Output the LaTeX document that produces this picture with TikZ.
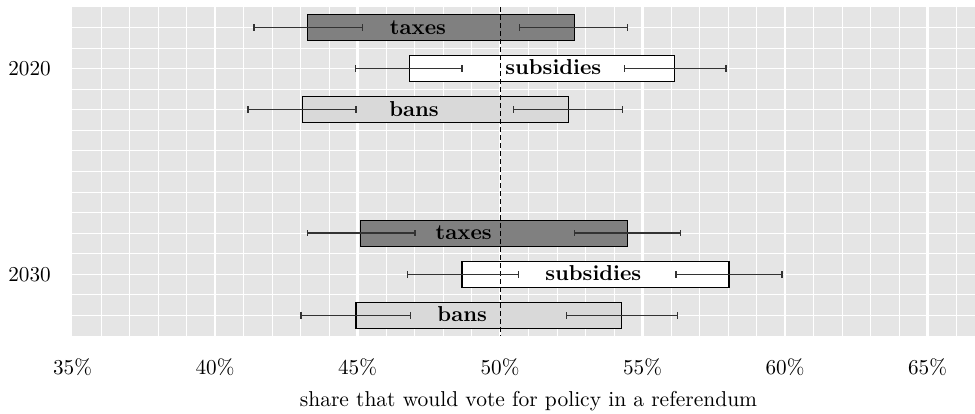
\documentclass[tikz,border=0pt]{standalone}
\usepackage{fontspec}
\definecolor{panelgray}{HTML}{E5E5E5}
\definecolor{taxfill}{HTML}{808080}
\definecolor{banfill}{HTML}{D9D9D9}
\definecolor{whiskcol}{HTML}{333333}
\begin{document}
\begin{tikzpicture}[x=0.5pt,y=-0.5pt,
  minorgrid/.style={white,line width=0.5pt},
  majorgrid/.style={white,line width=1.1pt},
  barbox/.style={draw=black,line width=0.65pt},
  whisk/.style={draw=whiskcol,line width=0.75pt},
  barlabel/.style={font=\fontsize{10.8}{13}\selectfont\bfseries,anchor=base,inner sep=0pt},
  ticklabel/.style={font=\fontsize{10.6}{12}\selectfont,anchor=base,inner sep=0pt},
  titlelabel/.style={font=\fontsize{10.75}{12}\selectfont,anchor=base,inner sep=0pt},
  yearlabel/.style={font=\fontsize{10.6}{12}\selectfont,anchor=center,inner sep=0pt}]
\useasboundingbox (0,0) rectangle (975,413);
% panel
\fill[panelgray] (72,7) rectangle (975,336);
% horizontal grid
\foreach \k in {1,...,15}{
  \draw[minorgrid] (72,{7+20.5625*\k}) -- (975,{7+20.5625*\k});
}
% vertical grid
\foreach \i in {1,...,31}{
  \pgfmathtruncatemacro\m{mod(\i,5)}
  \ifnum\m=0
    \draw[majorgrid] ({72.5+28.5*\i},7) -- ({72.5+28.5*\i},336);
  \else
    \draw[minorgrid] ({72.5+28.5*\i},7) -- ({72.5+28.5*\i},336);
  \fi
}
% bars
\foreach \y/\a/\b/\col/\nm in {
  27.6/307.3/574.3/taxfill/bt1,
  68.4/409.3/674.3/white/bs1,
  109.5/302.7/568.3/banfill/bb1,
  233.2/360.3/627.7/taxfill/bt2,
  274.3/462/729/white/bs2,
  315.4/356/621.3/banfill/bb2}{
  \draw[barbox,fill=\col] (\a,\y-13) rectangle (\b,\y+13);
}
% reference line at 50%
\draw[black,line width=0.5pt,dash pattern=on 2.4pt off 1.6pt] (500,7) -- (500,336);
% whiskers
\foreach \y/\p/\q in {
  27.6/254/362.3, 27.6/519.3/627.3,
  68.4/355.7/462, 68.4/624.3/726,
  109.5/248/356, 109.5/513.7/622.7,
  233.2/307.3/415, 233.2/574.3/680.7,
  274.3/407.7/518.3, 274.3/676/782,
  315.4/301/410.7, 315.4/566.7/677.7}{
  \draw[whisk] (\p,\y) -- (\q,\y);
  \draw[whisk] (\p,\y-3.2) -- (\p,\y+3.2);
  \draw[whisk] (\q,\y-3.2) -- (\q,\y+3.2);
}
% bar labels
\node[barlabel] (lt1) at (418,34.1) {taxes};
\node[barlabel] (ls1) at (553.3,74.9) {subsidies};
\node[barlabel] (lb1) at (414,116) {bans};
\node[barlabel] (lt2) at (463.7,239.7) {taxes};
\node[barlabel] (ls2) at (593.3,280.8) {subsidies};
\node[barlabel] (lb2) at (462.2,321.9) {bans};
% year labels
\node[yearlabel] (y2020) at (29.5,69) {2020};
\node[yearlabel] (y2030) at (29.5,275) {2030};
% tick labels
\foreach \j/\t in {0/35,1/40,2/45,3/50,4/55,5/60,6/65}{
  \node[ticklabel] (tick\t) at ({72.5+142.5*\j},374.3) {\t\%};
}
% axis title
\node[titlelabel] (xtitle) at (528.5,406.5) {share that would vote for policy in a referendum};
\end{tikzpicture}
\end{document}
